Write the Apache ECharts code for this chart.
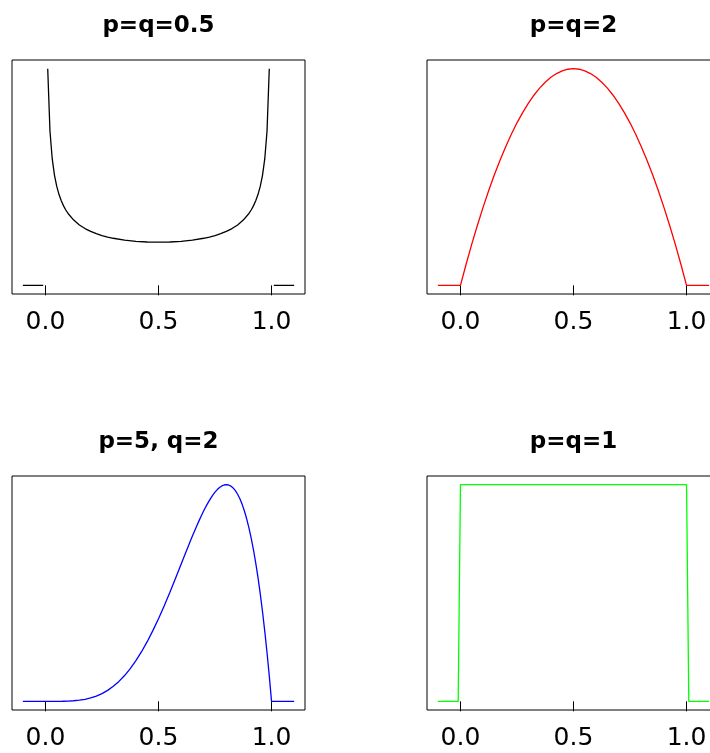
<!DOCTYPE html>
<html>
<head>
<meta charset="utf-8">
<script src="https://cdn.jsdelivr.net/npm/echarts@6/dist/echarts.min.js"></script>
<style>
  html, body { margin: 0; padding: 0; background: #fff; }
  #chart { width: 710px; height: 753px; }
</style>
</head>
<body>
<div id="chart"></div>
<script>
// ---------------- data ----------------
const panelTitles = ['p=q=0.5', 'p=q=2', 'p=5, q=2', 'p=q=1'];
const lineColors = ['#000000', '#FF0000', '#0000FF', '#00FF00'];
const xTicks = [0, 0.5, 1];
const xTickLabels = ['0.0', '0.5', '1.0'];

// Beta(0.5, 0.5) density (infinite at 0 and 1 -> gaps)
const halfX = [-0.1, -0.01, 0, 0.01, 0.02, 0.03, 0.04, 0.05, 0.06, 0.07, 0.08, 0.09, 0.10,
  0.125, 0.15, 0.175, 0.2, 0.225, 0.25, 0.275, 0.3, 0.35, 0.4, 0.45, 0.5, 0.55, 0.6, 0.65, 0.7,
  0.725, 0.75, 0.775, 0.8, 0.825, 0.85, 0.875, 0.9, 0.91, 0.92, 0.93, 0.94, 0.95, 0.96, 0.97,
  0.98, 0.99, 1.0, 1.01, 1.1];
const halfY = [0, 0, '-', 3.199, 2.274, 1.866, 1.624, 1.461, 1.340, 1.248, 1.173, 1.112, 1.061,
  0.963, 0.891, 0.838, 0.796, 0.762, 0.735, 0.713, 0.695, 0.667, 0.650, 0.640, 0.637, 0.640, 0.650, 0.667, 0.695,
  0.713, 0.735, 0.762, 0.796, 0.838, 0.891, 0.963, 1.061, 1.112, 1.173, 1.248, 1.340, 1.461, 1.624, 1.866,
  2.274, 3.199, '-', 0, 0];

// Beta(2, 2) density
const twoX = [-0.1, -0.01, 0, 0.025, 0.05, 0.075, 0.1, 0.125, 0.15, 0.175, 0.2, 0.225, 0.25,
  0.275, 0.3, 0.325, 0.35, 0.375, 0.4, 0.425, 0.45, 0.475, 0.5, 0.525, 0.55, 0.575, 0.6, 0.625,
  0.65, 0.675, 0.7, 0.725, 0.75, 0.775, 0.8, 0.825, 0.85, 0.875, 0.9, 0.925, 0.95, 0.975, 1.0, 1.01, 1.1];
const twoY = [0, 0, 0, 0.146, 0.285, 0.416, 0.540, 0.656, 0.765, 0.866, 0.960, 1.046, 1.125,
  1.196, 1.260, 1.316, 1.365, 1.406, 1.440, 1.466, 1.485, 1.496, 1.500, 1.496, 1.485, 1.466, 1.440, 1.406,
  1.365, 1.316, 1.260, 1.196, 1.125, 1.046, 0.960, 0.866, 0.765, 0.656, 0.540, 0.416, 0.285, 0.146, 0, 0, 0];

// Beta(5, 2) density
const fiveX = [-0.1, -0.01, 0, 0.025, 0.05, 0.075, 0.1, 0.125, 0.15, 0.175, 0.2, 0.225, 0.25,
  0.275, 0.3, 0.325, 0.35, 0.375, 0.4, 0.425, 0.45, 0.475, 0.5, 0.525, 0.55, 0.575, 0.6,
  0.61, 0.62, 0.63, 0.64, 0.65, 0.66, 0.67, 0.68, 0.69, 0.70, 0.71, 0.72, 0.73, 0.74, 0.75,
  0.76, 0.77, 0.78, 0.79, 0.80, 0.81, 0.82, 0.83, 0.84, 0.85, 0.86, 0.87, 0.88, 0.89, 0.90,
  0.91, 0.92, 0.93, 0.94, 0.95, 0.96, 0.97, 0.98, 0.99, 1.0, 1.01, 1.1];
const fiveY = [0, 0, 0, 0.0000, 0.0002, 0.0009, 0.0027, 0.0064, 0.0129, 0.0232, 0.0384, 0.0596, 0.0879,
  0.1244, 0.1701, 0.2259, 0.2926, 0.3708, 0.4608, 0.5628, 0.6766, 0.8018, 0.9375, 1.0826, 1.2353, 1.3937, 1.5552,
  1.6200, 1.6845, 1.7486, 1.8119, 1.8743, 1.9354, 1.9950, 2.0526, 2.1080, 2.1609, 2.2108, 2.2574, 2.3002, 2.3390, 2.3730,
  2.4021, 2.4256, 2.4430, 2.4539, 2.4576, 2.4537, 2.4415, 2.4203, 2.3898, 2.3490, 2.2974, 2.2343, 2.1589, 2.0705, 1.9683,
  1.8515, 1.7193, 1.5709, 1.4054, 1.2218, 1.0192, 0.7968, 0.5534, 0.2882, 0, 0, 0];

// Beta(1, 1) density
const oneX = [-0.1, -0.01, 0, 1.0, 1.01, 1.1];
const oneY = [0, 0, 1, 1, 0, 0];

// ---------------- build ----------------
const panelX = [halfX, twoX, fiveX, oneX];
const panelY = [halfY, twoY, fiveY, oneY];

const grids = [
  { left: 12,  top: 60,  width: 293, height: 234 },
  { left: 427, top: 60,  width: 293, height: 234 },
  { left: 12,  top: 476, width: 293, height: 234 },
  { left: 427, top: 476, width: 293, height: 234 }
];

function pad(lo, hi) { const d = (hi - lo) * 0.04; return [lo - d, hi + d]; }

const option = {
  animation: false,
  backgroundColor: '#ffffff',
  grid: [], xAxis: [], yAxis: [], series: [], graphic: []
};

for (let i = 0; i < 4; i++) {
  const xs = panelX[i];
  const ys = panelY[i].filter(v => typeof v === 'number');
  const [xmin, xmax] = pad(Math.min(...xs), Math.max(...xs));
  const [ymin, ymax] = pad(Math.min(...ys), Math.max(...ys));
  const g = grids[i];
  option.grid.push(Object.assign({
    show: true, borderColor: '#000', borderWidth: 1,
    containLabel: false, outerBoundsMode: 'none'
  }, g));
  option.xAxis.push({
    gridIndex: i, type: 'value', min: xmin, max: xmax,
    axisLine: { show: false },
    splitLine: { show: false },
    axisTick: { show: true, customValues: xTicks, length: 10, lineStyle: { color: '#000', width: 1 } },
    axisLabel: {
      customValues: xTicks,
      formatter: v => xTickLabels[xTicks.indexOf(Math.round(v * 10) / 10)] || '',
      fontFamily: 'DejaVu Sans', fontSize: 25, color: '#000', margin: 16,
      hideOverlap: false
    }
  });
  option.yAxis.push({ gridIndex: i, type: 'value', min: ymin, max: ymax, show: false, splitLine: { show: false } });
  option.series.push({
    type: 'line', xAxisIndex: i, yAxisIndex: i,
    data: xs.map((x, j) => [x, panelY[i][j]]),
    symbol: 'none', showSymbol: false, connectNulls: false,
    lineStyle: { color: lineColors[i], width: 1.3 },
    silent: true
  });
  option.graphic.push({
    type: 'text',
    x: g.left + g.width / 2,
    y: g.top - 34,
    style: {
      text: panelTitles[i], align: 'center', verticalAlign: 'middle',
      fontFamily: 'DejaVu Sans', fontWeight: 'bold', fontSize: 23, fill: '#000'
    }
  });
}

const chart = echarts.init(document.getElementById('chart'), null, { renderer: 'canvas' });
chart.setOption(option);
</script>
</body>
</html>
